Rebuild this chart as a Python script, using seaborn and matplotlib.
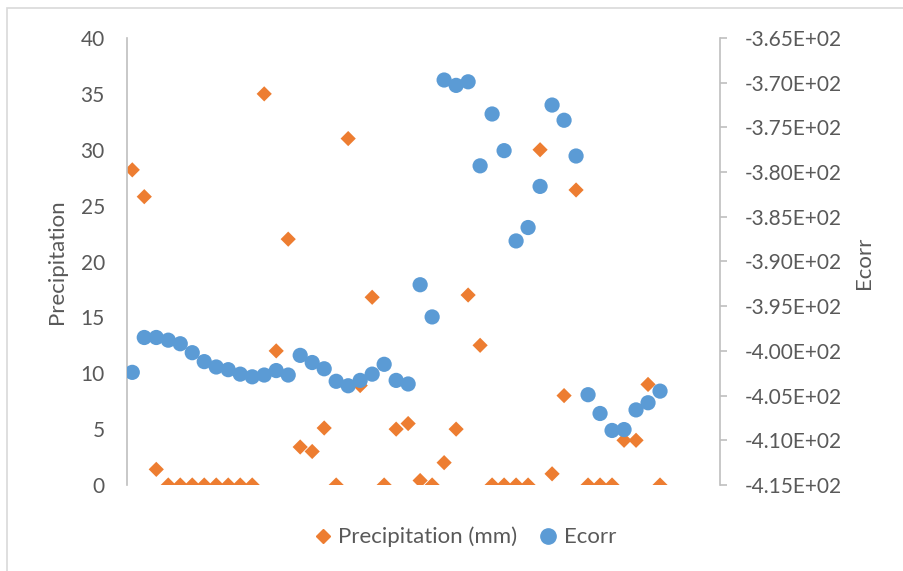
import numpy as np
import pandas as pd
import matplotlib
matplotlib.use("Agg")
import matplotlib.pyplot as plt
import seaborn as sns
from matplotlib.lines import Line2D
from matplotlib.ticker import FuncFormatter, MultipleLocator
from matplotlib.patches import Rectangle

# ---- data ----
sample_index = list(range(45))
precipitation_mm = [28.2, 25.8, 1.4, 0, 0, 0, 0, 0, 0, 0,
                    0, 35.0, 12.0, 22.0, 3.4, 3.0, 5.1, 0, 31.0, 8.9,
                    16.8, 0, 5.0, 5.5, 0.4, 0, 2.0, 5.0, 17.0, 12.5,
                    0, 0, 0, 0, 30.0, 1.0, 8.0, 26.4, 0, 0,
                    0, 4.0, 4.0, 9.0, 0]
ecorr = [-402.4, -398.5, -398.5, -398.8, -399.2, -400.2, -401.2, -401.8, -402.1, -402.6,
         -402.9, -402.7, -402.2, -402.7, -400.5, -401.3, -402.0, -403.4, -403.9, -403.3,
         -402.6, -401.5, -403.3, -403.7, -392.6, -396.2, -369.7, -370.3, -369.9, -379.3,
         -373.5, -377.6, -387.7, -386.2, -381.6, -372.5, -374.2, -378.2, -404.9, -407.0,
         -408.9, -408.8, -406.6, -405.8, -404.5]
left_ticks = [0, 5, 10, 15, 20, 25, 30, 35, 40]
right_ticks = [-415, -410, -405, -400, -395, -390, -385, -380, -375, -370, -365]

ORANGE = "#ED7D31"
BLUE = "#5B9BD5"
TXT = "#595959"
AXC = "#BFBFBF"

sns.set_theme(style="white")
plt.rcParams['font.family'] = ['Lato', 'DejaVu Sans']

df = pd.DataFrame({"idx": sample_index,
                   "Precipitation (mm)": precipitation_mm,
                   "Ecorr": ecorr})

fig = plt.figure(figsize=(9.04, 5.71), dpi=100)
ax = fig.add_axes([127/904, 1-485/571, (720-127)/904, (485-38)/571])
ax2 = ax.twinx()

sns.scatterplot(data=df, x="idx", y="Precipitation (mm)", ax=ax, marker="D",
                s=60, color=ORANGE, edgecolor="none", linewidth=0, legend=False)
sns.scatterplot(data=df, x="idx", y="Ecorr", ax=ax2, marker="o",
                s=120, color=BLUE, edgecolor="none", linewidth=0, legend=False)

ax.set_xlim(-0.44, 49.0)
ax.set_ylim(0, 40)
ax2.set_ylim(-415, -365)
ax.set_yticks(left_ticks)
ax2.set_yticks(right_ticks)
ax2.yaxis.set_major_formatter(FuncFormatter(lambda v, p: f"{v:.2E}"))
ax.set_xticks([])
ax.set_xlabel("")

for s in ["top", "right", "bottom"]:
    ax.spines[s].set_visible(False)
ax.spines["left"].set_color(AXC)
ax.spines["left"].set_linewidth(1.2)
for s in ["top", "left", "bottom"]:
    ax2.spines[s].set_visible(False)
ax2.spines["right"].set_color(AXC)
ax2.spines["right"].set_linewidth(1.2)

ax.tick_params(axis="y", length=0, pad=16, labelsize=15, labelcolor=TXT)
ax2.tick_params(axis="y", right=True, length=5, width=1.2, color=AXC,
                direction="out", pad=12.5, labelsize=15, labelcolor=TXT)

ax.set_ylabel("Precipitation", fontsize=16, color=TXT)
ax.yaxis.set_label_coords(-0.101, 0.5)
ax2.set_ylabel("Ecorr", fontsize=16, color=TXT)
ax2.yaxis.set_label_coords(1.226, 0.497)

handles = [Line2D([], [], marker="D", color=ORANGE, linestyle="none", markersize=7.5),
           Line2D([], [], marker="o", color=BLUE, linestyle="none", markersize=11)]
fig.legend(handles, ["Precipitation (mm)", "Ecorr"], loc="center",
           bbox_to_anchor=(464/904, 1-537/571), ncol=2, frameon=False,
           fontsize=16, labelcolor=TXT, handletextpad=0.2, columnspacing=0.9,
           handlelength=1.0)

fig.patches.append(Rectangle((7/904, -0.1), 1.2, 1-8/571+0.1, transform=fig.transFigure,
                             fill=False, edgecolor="#D9D9D9", linewidth=1.2))

fig.savefig("out.png", dpi=100)
